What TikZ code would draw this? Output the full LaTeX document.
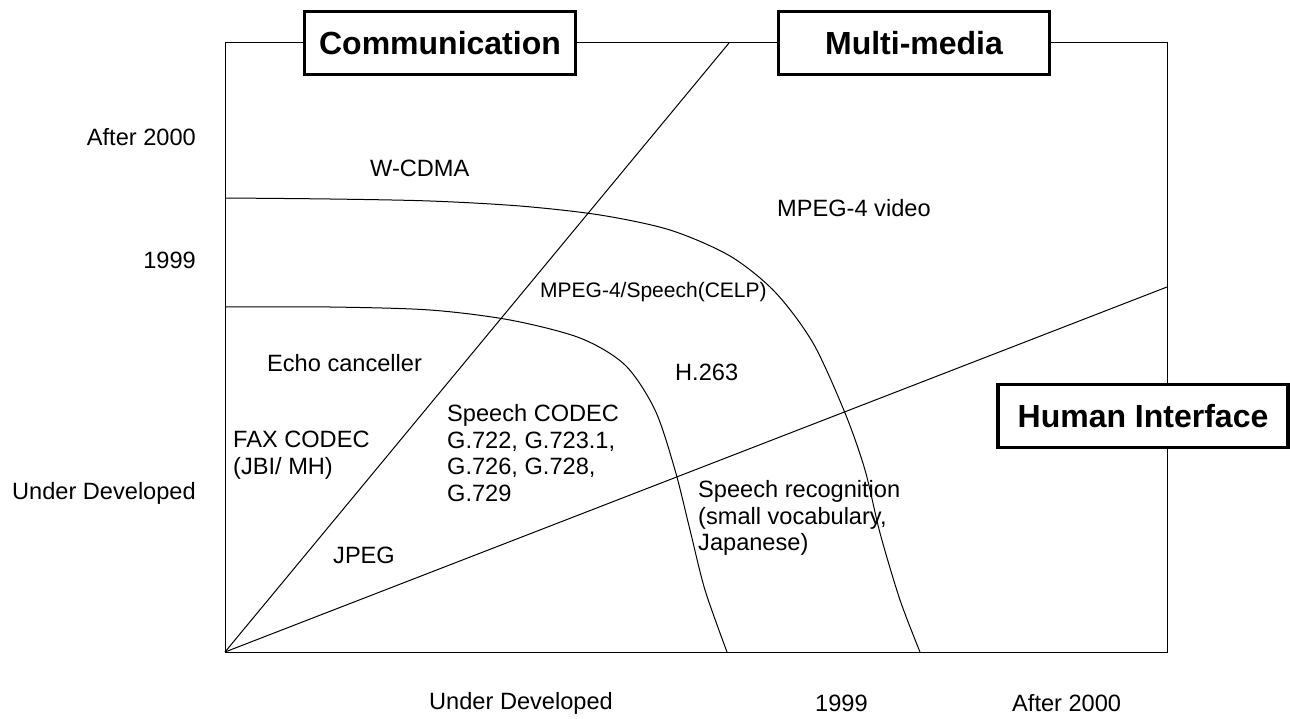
\documentclass[tikz,border=0pt]{standalone}
\usepackage{fontspec}
\setmainfont{Liberation Sans}
\usetikzlibrary{positioning}

\begin{document}
\begin{tikzpicture}[
    x=1pt, y=-1pt,
    font=\fontsize{23.6}{26.5}\selectfont,
    every node/.style={inner sep=0pt},
    frame/.style={line width=1pt},
    sector/.style={anchor=west, align=left},      % text inside a region
    ylab/.style={anchor=east},                    % labels left of the frame
    xlab/.style={anchor=west},                    % labels under the frame
    head/.style={draw, fill=white, line width=3.5pt, minimum height=63pt,
                 minimum width=271pt, font=\fontsize{32}{36}\selectfont\bfseries}
  ]
\useasboundingbox (0,0) rectangle (1290,719);

% --- frame and the two rays from the origin ---
    \coordinate (O) at (225,652);
    \coordinate (NE) at (1167,43);
    \coordinate (diagTop) at (729,43);
    \coordinate (hiEnd) at (1167,287);
    \draw[frame] (O) rectangle (NE);
    \draw[frame] (O) -- (diagTop);
    \draw[frame] (O) -- (hiEnd);

% --- time boundaries (1999, after 2000) ---
    \draw[frame] plot[smooth, tension=0.5] coordinates {(225,307) (330,307) (430,310)
      (510,320) (580,338) (625,365) (655,410) (675,470) (690,530) (705,590) (727,652)};
    \draw[frame] plot[smooth, tension=0.5] coordinates {(225,198) (330,199) (430,201)
      (520,206) (600,215) (670,230) (730,256) (775,292) (813,343) (845,413)
      (865,470) (880,533) (900,600) (920,652)};

% --- field headers ---
    \node[head] (comm) at (440,43) {Communication};
    \node[head] (mmedia) at (914,43) {Multi-media};
    \node[head, minimum width=290pt] (human) at (1143,416) {Human Interface};

% --- axis labels ---
    \node[ylab] (yAfter) at (196,137) {After 2000};
    \node[ylab] (y1999) at (196,260) {1999};
    \node[ylab] (yUnder) at (196,493) {Under Developed};
    \node[xlab] (xUnder) at (429,703) {Under Developed};
    \node[xlab] (x1999) at (815,703) {1999};
    \node[xlab] (xAfter) at (1012,703) {After 2000};

% --- items ---
    \node[sector] (wcdma) at (370,168) {W-CDMA};
    \node[sector] (mp4video) at (777,208) {MPEG-4 video};
    \node[sector, font=\fontsize{21}{24}\selectfont] (celp) at (540,292) {MPEG-4/Speech(CELP)};
    \node[sector] (echo) at (267,363) {Echo canceller};
    \node[sector] (h263) at (675,372) {H.263};
    \node[sector] (speech) at (447,453) {Speech CODEC\\G.722, G.723.1,\\G.726, G.728,\\G.729};
    \node[sector] (fax) at (233,455) {FAX CODEC\\(JBI/ MH)};
    \node[sector] (jpeg) at (333,555) {JPEG};
    \node[sector] (recog) at (698,518) {Speech recognition\\(small vocabulary,\\Japanese)};

\end{tikzpicture}
\end{document}
